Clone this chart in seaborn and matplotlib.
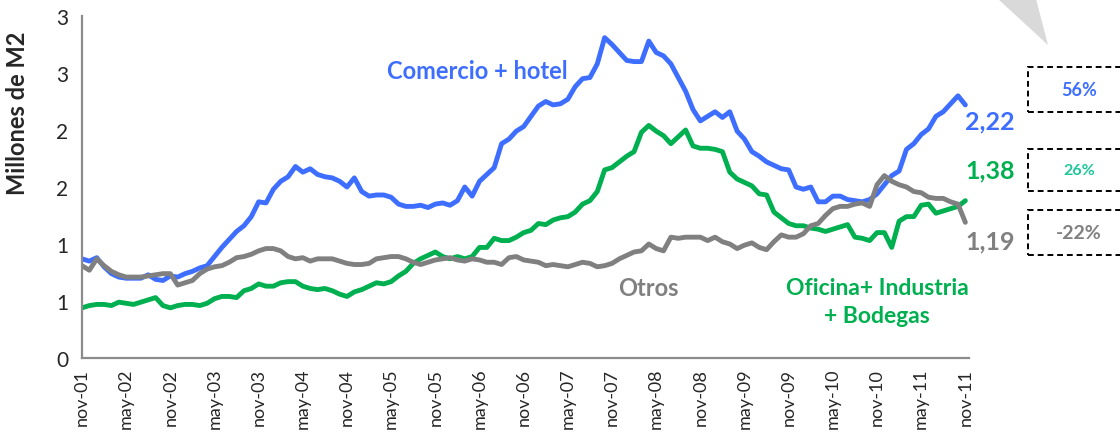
import numpy as np
import pandas as pd
import matplotlib
matplotlib.use('Agg')
import matplotlib.pyplot as plt
from matplotlib.patches import Rectangle, Polygon
import seaborn as sns

# Datos mensuales nov-01 .. nov-11 (millones de m2)
comercio = [0.87, 0.85, 0.88, 0.80, 0.74, 0.71, 0.70, 0.70, 0.70, 0.73, 0.69, 0.68, 0.72, 0.71, 0.74, 0.76,
            0.79, 0.81, 0.89, 0.97, 1.04, 1.11, 1.16, 1.24, 1.37, 1.36, 1.48, 1.55, 1.59, 1.68, 1.63, 1.66,
            1.61, 1.59, 1.58, 1.55, 1.50, 1.58, 1.46, 1.42, 1.43, 1.43, 1.41, 1.35, 1.33, 1.33, 1.34, 1.32,
            1.35, 1.36, 1.34, 1.38, 1.50, 1.42, 1.55, 1.61, 1.67, 1.88, 1.92, 1.99, 2.03, 2.12, 2.21, 2.25,
            2.22, 2.23, 2.27, 2.38, 2.45, 2.46, 2.58, 2.81, 2.75, 2.68, 2.61, 2.60, 2.60, 2.78, 2.68, 2.65,
            2.58, 2.46, 2.34, 2.18, 2.08, 2.12, 2.16, 2.11, 2.16, 1.99, 1.92, 1.81, 1.77, 1.72, 1.69, 1.66,
            1.65, 1.50, 1.48, 1.50, 1.37, 1.37, 1.42, 1.42, 1.39, 1.38, 1.37, 1.39, 1.44, 1.52, 1.60, 1.64,
            1.83, 1.88, 1.96, 2.01, 2.12, 2.16, 2.23, 2.30, 2.22]

oficina = [0.44, 0.46, 0.47, 0.47, 0.46, 0.49, 0.48, 0.47, 0.49, 0.51, 0.53, 0.46, 0.44, 0.46, 0.47, 0.47,
           0.46, 0.48, 0.52, 0.54, 0.54, 0.53, 0.59, 0.61, 0.65, 0.63, 0.63, 0.66, 0.67, 0.67, 0.63, 0.61,
           0.60, 0.61, 0.59, 0.56, 0.54, 0.58, 0.60, 0.63, 0.66, 0.65, 0.67, 0.72, 0.76, 0.83, 0.87, 0.90,
           0.93, 0.89, 0.87, 0.89, 0.87, 0.89, 0.97, 0.97, 1.05, 1.03, 1.03, 1.06, 1.10, 1.12, 1.18, 1.17,
           1.21, 1.23, 1.24, 1.28, 1.35, 1.38, 1.46, 1.65, 1.67, 1.72, 1.77, 1.81, 1.98, 2.04, 1.99, 1.95,
           1.88, 1.94, 2.00, 1.86, 1.84, 1.84, 1.83, 1.81, 1.63, 1.57, 1.54, 1.51, 1.44, 1.43, 1.28, 1.23,
           1.18, 1.16, 1.16, 1.14, 1.13, 1.11, 1.13, 1.15, 1.17, 1.06, 1.05, 1.03, 1.10, 1.10, 0.97, 1.20,
           1.24, 1.24, 1.34, 1.35, 1.27, 1.29, 1.31, 1.33, 1.38]

otros = [0.81, 0.77, 0.87, 0.81, 0.76, 0.73, 0.71, 0.71, 0.71, 0.72, 0.73, 0.74, 0.74, 0.64, 0.66, 0.68,
         0.74, 0.78, 0.80, 0.81, 0.84, 0.88, 0.89, 0.91, 0.94, 0.96, 0.96, 0.94, 0.89, 0.87, 0.88, 0.85,
         0.87, 0.87, 0.87, 0.85, 0.83, 0.82, 0.82, 0.83, 0.87, 0.88, 0.89, 0.89, 0.87, 0.84, 0.82, 0.84,
         0.86, 0.87, 0.88, 0.86, 0.85, 0.87, 0.86, 0.84, 0.84, 0.82, 0.88, 0.89, 0.86, 0.85, 0.84, 0.81,
         0.82, 0.81, 0.80, 0.82, 0.84, 0.83, 0.80, 0.81, 0.83, 0.87, 0.90, 0.93, 0.94, 1.00, 0.96, 0.94,
         1.06, 1.05, 1.06, 1.06, 1.06, 1.03, 1.06, 1.02, 1.00, 0.96, 0.99, 1.01, 0.97, 0.95, 1.02, 1.08,
         1.06, 1.06, 1.09, 1.16, 1.18, 1.25, 1.31, 1.33, 1.33, 1.35, 1.36, 1.33, 1.52, 1.60, 1.55, 1.52,
         1.50, 1.46, 1.45, 1.41, 1.40, 1.40, 1.37, 1.35, 1.19]

xtick_labels = ['nov-01', 'may-02', 'nov-02', 'may-03', 'nov-03', 'may-04', 'nov-04', 'may-05', 'nov-05',
                'may-06', 'nov-06', 'may-07', 'nov-07', 'may-08', 'nov-08', 'may-09', 'nov-09', 'may-10',
                'nov-10', 'may-11', 'nov-11']
ytick_vals = [0, 0.5, 1, 1.5, 2, 2.5, 3]
ytick_labels = ['0', '1', '1', '2', '2', '3', '3']

azul = '#3D6EFF'
verde = '#00B050'
gris = '#808080'

df = pd.DataFrame({'mes': np.arange(len(comercio)), 'Comercio + hotel': comercio,
                   'Oficina': oficina, 'Otros': otros})

sns.set_style('white')
plt.rcParams['font.family'] = ['Lato', 'DejaVu Sans']

fig = plt.figure(figsize=(11.2, 4.39), dpi=100)
ax = fig.add_axes([0.0732, 0.1822, 0.7920, 0.7791])

sns.lineplot(data=df, x='mes', y='Comercio + hotel', color=azul, lw=3.5, ax=ax)
sns.lineplot(data=df, x='mes', y='Oficina', color=verde, lw=3.5, ax=ax)
sns.lineplot(data=df, x='mes', y='Otros', color=gris, lw=3.5, ax=ax)

ax.set_xlim(0, 120.5)
ax.set_ylim(0, 3)
ax.set_xticks(np.arange(0, 121, 6))
ax.set_xticklabels(xtick_labels, rotation=90, fontsize=13)
ax.set_yticks(ytick_vals)
ax.set_yticklabels(ytick_labels, fontsize=15)
ax.set_xlabel('')
ax.set_ylabel('Millones de M2', fontsize=17, fontweight='bold')
ax.yaxis.set_label_coords(-0.060, 0.72)

for s in ['top', 'right']:
    ax.spines[s].set_visible(False)
for s in ['left', 'bottom']:
    ax.spines[s].set_color('#8C8C8C')
    ax.spines[s].set_linewidth(1.6)
ax.tick_params(axis='y', length=6, width=1.4, color='#8C8C8C', direction='out', pad=4)
ax.tick_params(axis='x', length=4, width=1.4, color='#8C8C8C', direction='out', pad=3)

# etiquetas de series
ax.text(53.7, 2.52, 'Comercio + hotel', color=azul, fontsize=17, fontweight='bold', ha='center', va='center')
ax.text(77, 0.62, 'Otros', color=gris, fontsize=17, fontweight='bold', ha='center', va='center')
ax.text(108, 0.62, 'Oficina+ Industria', color=verde, fontsize=16.5, fontweight='bold', ha='center', va='center')
ax.text(108, 0.37, '+ Bodegas', color=verde, fontsize=16.5, fontweight='bold', ha='center', va='center')

# valores finales
ax.text(120.0, 2.08, '2,22', color=azul, fontsize=18, fontweight='bold', ha='left', va='center', clip_on=False)
ax.text(120.0, 1.65, '1,38', color=verde, fontsize=18, fontweight='bold', ha='left', va='center', clip_on=False)
ax.text(120.0, 1.03, '1,19', color=gris, fontsize=18, fontweight='bold', ha='left', va='center', clip_on=False)

# cajas de variación
W, H = 1120, 439
cajas = [(68, 113, '56%', azul, 13), (150, 192, '26%', '#1DC79A', 11.5), (211, 256, '-22%', gris, 14)]
for y0, y1, txt, col, fs in cajas:
    fig.patches.append(Rectangle((1028 / W, 1 - y1 / H), 110 / W, (y1 - y0) / H, transform=fig.transFigure,
                                 fill=False, ls=(0, (3, 2)), lw=1.4, ec='black'))
    fig.text(1079 / W, 1 - (y0 + y1) / 2 / H, txt, color=col, fontsize=fs, fontweight='bold',
             ha='center', va='center')

fig.patches.append(Polygon([(998 / W, 1.0), (1036 / W, 1.0), (1048 / W, 1 - 46 / H)], closed=True,
                           transform=fig.transFigure, fc='#D9D9D9', ec='none'))

fig.savefig('out.png', dpi=100)
